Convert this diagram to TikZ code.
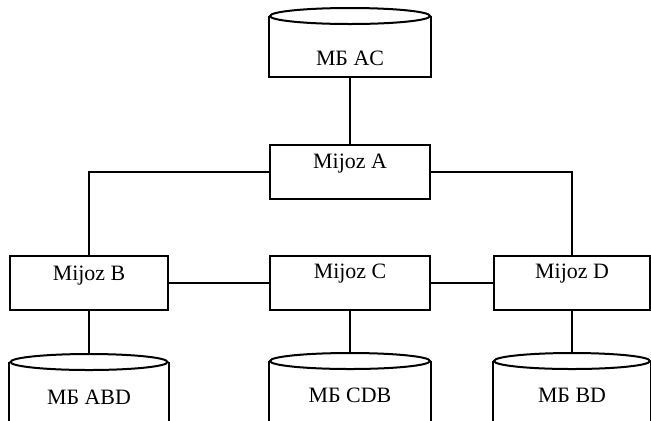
\documentclass[tikz,border=0pt]{standalone}
\usepackage{fontspec}
\setmainfont{Liberation Serif}
\usetikzlibrary{shapes.geometric}
\begin{document}
\begin{tikzpicture}[x=1bp,y=-1bp, line width=2bp,
  box/.style={draw, rectangle, minimum height=54bp, inner sep=0pt},
  disk/.style={draw, ellipse, inner sep=0pt, minimum height=16bp},
  txt/.style={font=\fontsize{22}{26}\selectfont, inner sep=0pt, anchor=base}]
\useasboundingbox (0,0) rectangle (651,420);
\coordinate (bot) at (0,421);
% top database
\node[disk, minimum width=160bp] (eAC) at (350,16) {};
\coordinate (bAC) at (350,77);
\draw (eAC.west) |- (bAC) -| (eAC.east);
\node[txt] (tAC) at (350,65) {МБ AC};
% clients
\node[box, minimum width=160bp] (mA) at (350,172) {};
\node[txt] (tA) at (350,168) {Mijoz A};
\node[box, minimum width=158bp] (mB) at (89,283) {};
\node[txt] (tB) at (89,280) {Mijoz B};
\node[box, minimum width=160bp] (mC) at (350,283) {};
\node[txt] (tC) at (350,278) {Mijoz C};
\node[box, minimum width=156bp] (mD) at (572,283) {};
\node[txt] (tD) at (572,278) {Mijoz D};
% bottom databases
\node[disk, minimum width=157bp] (eABD) at (89,362) {};
\draw (eABD.west) -- (eABD.west |- bot) (eABD.east) -- (eABD.east |- bot);
\node[txt] (tABD) at (89,404) {МБ ABD};
\node[disk, minimum width=160bp] (eCDB) at (350,361) {};
\draw (eCDB.west) -- (eCDB.west |- bot) (eCDB.east) -- (eCDB.east |- bot);
\node[txt] (tCDB) at (350,402) {МБ CDB};
\node[disk, minimum width=156bp] (eBD) at (572,361) {};
\draw (eBD.west) -- (eBD.west |- bot) (eBD.east) -- (eBD.east |- bot);
\node[txt] (tBD) at (572,402) {МБ BD};
% connectors
\draw (bAC) -- (mA.north);
\draw (mA.west) -| (mB.north);
\draw (mA.east) -| (mD.north);
\draw (mB.east) -- (mC.west);
\draw (mC.east) -- (mD.west);
\draw (mB.south) -- (eABD.north);
\draw (mC.south) -- (eCDB.north);
\draw (mD.south) -- (eBD.north);
\end{tikzpicture}
\end{document}
